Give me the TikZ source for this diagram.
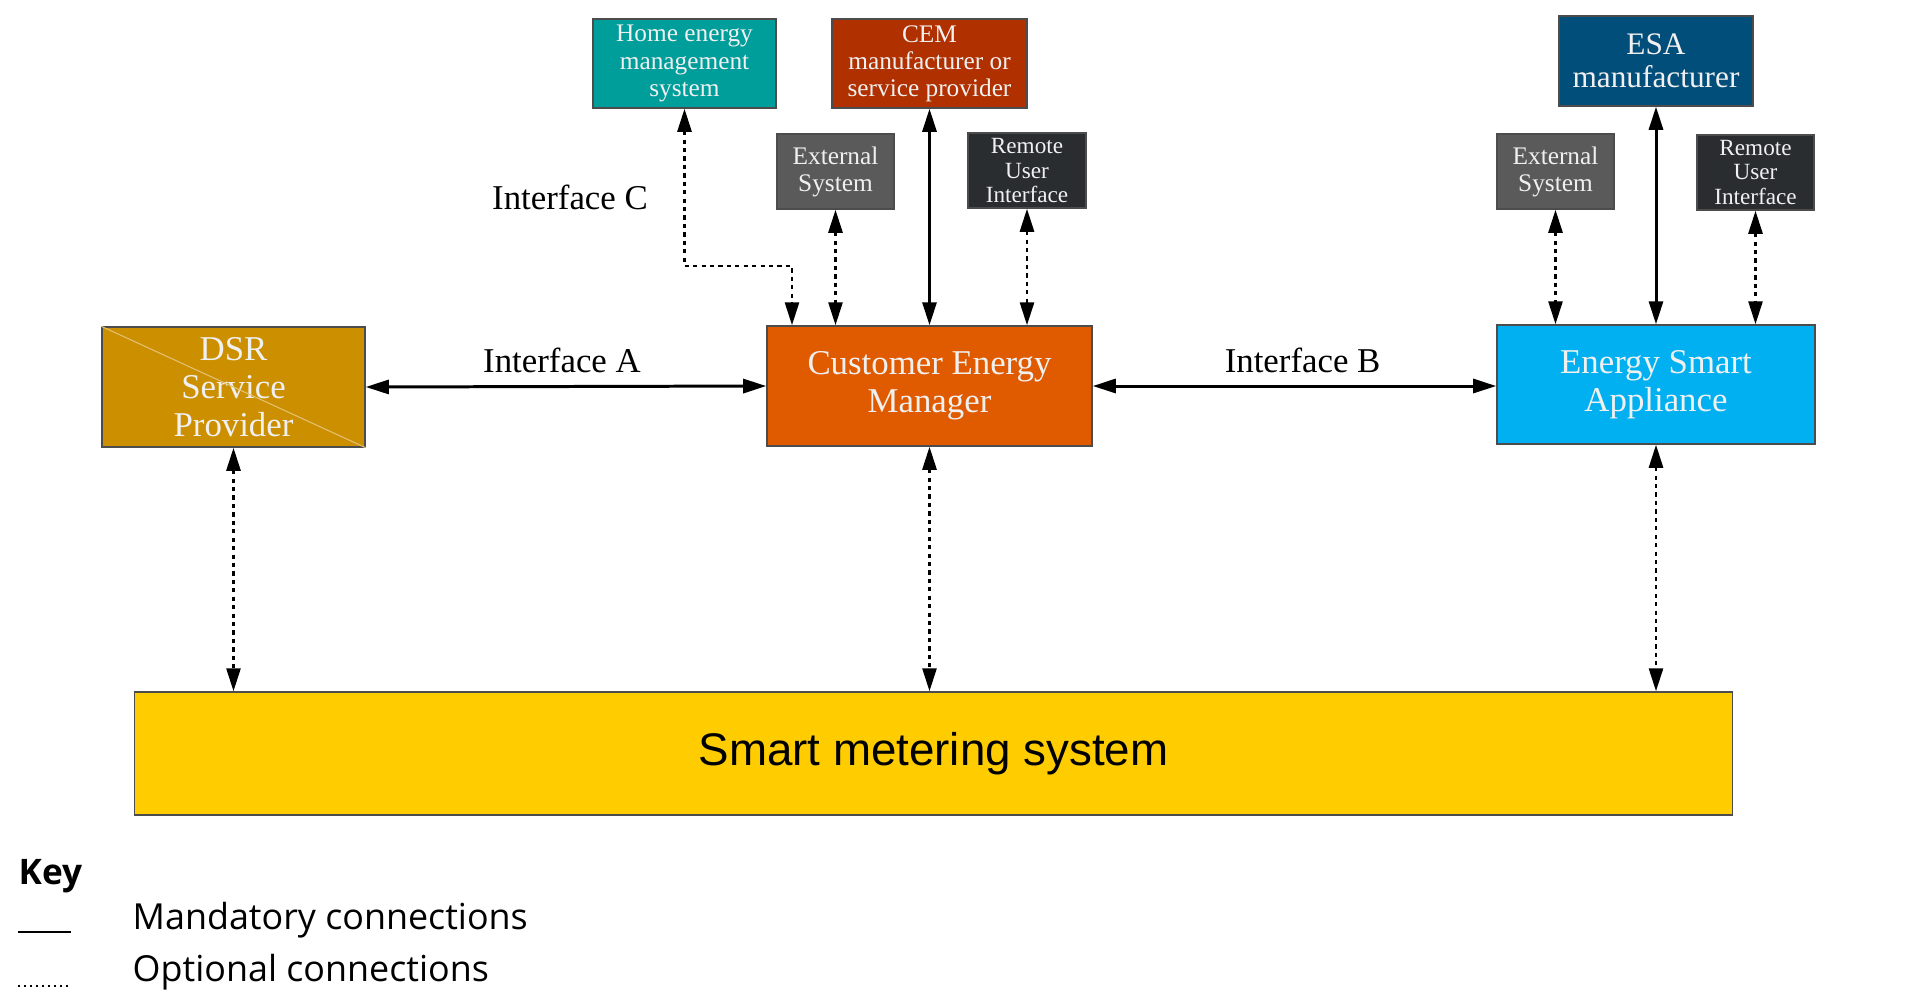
\documentclass[tikz,border=0pt]{standalone}
\usepackage{fontspec}
\setmainfont{Liberation Serif}
\setsansfont{Open Sans}
\newfontfamily\arialfont{Liberation Sans}
\usetikzlibrary{arrows.meta}

\definecolor{dsrcol}{RGB}{204,143,0}
\definecolor{cemcol}{RGB}{224,90,0}
\definecolor{esacol}{RGB}{0,176,240}
\definecolor{smscol}{RGB}{255,204,0}
\definecolor{hemscol}{RGB}{0,158,154}
\definecolor{mfrcol}{RGB}{176,48,0}
\definecolor{extcol}{RGB}{90,90,90}
\definecolor{ruicol}{RGB}{42,45,48}
\definecolor{esamfrcol}{RGB}{2,78,122}

\begin{document}
\begin{tikzpicture}[x=0.01cm,y=-0.01cm,>={Triangle[length=2.3mm,width=1.4mm]},
  box/.style={draw=black!70,line width=0.4pt,inner sep=0pt,align=center,text=white!94!black},
  main box/.style={box,minimum height=1.2cm,font=\fontsize{9.9}{10.8}\selectfont},
  small box/.style={box,minimum height=0.75cm,font=\fontsize{7.2}{7.7}\selectfont},
  mandatory/.style={<->,line width=0.85pt},
  optional/.style={<->,line width=0.75pt,dash pattern=on 1.2pt off 1.2pt},
  key text/.style={anchor=base west,inner sep=0pt,font=\sffamily\fontsize{10.2}{12}\selectfont}]

  \useasboundingbox (0,0) rectangle (1914,1005);

  % main row
  \node[main box,fill=dsrcol,minimum width=2.63cm] (dsr) at (233.5,387) {DSR\\Service\\Provider};
  \draw[dsrcol!55!white,line width=0.3pt] (dsr.north west) -- (dsr.south east);
  \node[main box,fill=cemcol,minimum width=3.25cm] (cem) at (929.5,386) {Customer Energy\\Manager};
  \node[main box,fill=esacol,minimum width=3.18cm,minimum height=1.19cm] (esa) at (1656,384.5) {Energy Smart\\Appliance};
  \node[draw=black!70,line width=0.4pt,fill=smscol,minimum width=15.97cm,minimum height=1.23cm,
    font=\arialfont\fontsize{13}{16}\selectfont] (sms) at (933.5,753.5) {Smart metering system};

  % top row
  \node[small box,fill=hemscol,minimum width=1.83cm,minimum height=0.89cm] (hems) at (684.5,63.5) {Home energy\\management\\system};
  \node[small box,fill=mfrcol,minimum width=1.95cm,minimum height=0.89cm] (cemmfr) at (929.5,63.5) {CEM\\manufacturer or\\service provider};
  \node[small box,fill=extcol,minimum width=1.17cm] (ext1) at (835.5,171.5) {External\\System};
  \node[small box,fill=ruicol,minimum width=1.18cm,font=\fontsize{6.6}{7.1}\selectfont] (rui1) at (1027,170.5) {Remote\\User\\Interface};
  \node[small box,fill=esamfrcol,minimum width=1.94cm,minimum height=0.9cm,font=\fontsize{8.9}{9.4}\selectfont] (esamfr) at (1656,61) {ESA\\manufacturer};
  \node[small box,fill=extcol,minimum width=1.17cm] (ext2) at (1555.5,171.5) {External\\System};
  \node[small box,fill=ruicol,minimum width=1.17cm,font=\fontsize{6.6}{7.1}\selectfont] (rui2) at (1755.5,172.5) {Remote\\User\\Interface};

  \node[font=\fontsize{9.9}{10.8}\selectfont] (ifc) at (570,197) {Interface C};
  \coordinate (bend) at (792,266);

  % connections
  \draw[mandatory] (dsr.east) -- node[above,pos=0.49,font=\fontsize{9.9}{10.8}\selectfont] {Interface A} (cem.west);
  \draw[mandatory] (cem.east) -- node[above,pos=0.52,font=\fontsize{9.9}{10.8}\selectfont] {Interface B} (cem.east -| esa.west);
  \draw[mandatory] (cemmfr.south) -- (cemmfr.south |- cem.north);
  \draw[mandatory] (esamfr.south) -- (esamfr.south |- esa.north);
  \draw[optional] (hems.south) |- (bend) -- (bend |- cem.north);
  \draw[optional] (ext1.south) -- (ext1.south |- cem.north);
  \draw[optional] (rui1.south) -- (rui1.south |- cem.north);
  \draw[optional] (ext2.south) -- (ext2.south |- esa.north);
  \draw[optional] (rui2.south) -- (rui2.south |- esa.north);
  \draw[optional] (dsr.south) -- (dsr.south |- sms.north);
  \draw[optional] (cem.south) -- (cem.south |- sms.north);
  \draw[optional] (esa.south) -- (esa.south |- sms.north);

  % key
  \node[key text,font=\sffamily\bfseries\fontsize{10}{12}\selectfont] (key) at (18,884) {Key};
  \node[key text] (mand) at (132,929) {Mandatory connections};
  \node[key text] (opt) at (132,981) {Optional connections};
  \draw[line width=0.35pt] (18,932) -- (71,932);
  \draw[line width=0.45pt,dash pattern=on 0.6pt off 1.1pt] (18,986) -- (71,986);
\end{tikzpicture}
\end{document}
